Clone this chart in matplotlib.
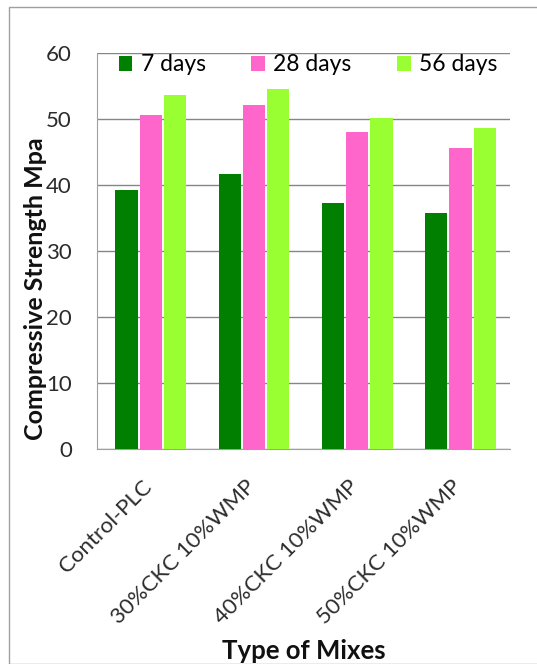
import matplotlib
matplotlib.use("Agg")
import matplotlib.pyplot as plt
import numpy as np
from matplotlib.patches import Rectangle

plt.rcParams['font.family'] = ['Lato', 'DejaVu Sans']

categories = ["Control-PLC", "30%CKC 10%WMP", "40%CKC 10%WMP", "50%CKC 10%WMP"]
series_names = ["7 days", "28 days", "56 days"]
days7 = [39.2, 41.7, 37.2, 35.7]
days28 = [50.6, 52.1, 48.1, 45.6]
days56 = [53.6, 54.6, 50.2, 48.6]
colors = ["#007F00", "#FF66CC", "#99FF33"]
yticks = [0, 10, 20, 30, 40, 50, 60]

fig = plt.figure(figsize=(5.37, 6.64), dpi=100)
fig.patches.append(Rectangle((9/537, 0), 1.0, 1 - 7/664, transform=fig.transFigure,
                             fill=False, edgecolor="#A0A0A0", linewidth=1.0))
ax = fig.add_axes([97/537, 1 - 449/664, 413/537, (449 - 53)/664])

x = np.arange(len(categories))
w = 0.215
offsets = [-0.235, 0.0, 0.235]
for vals, off, c, name in zip([days7, days28, days56], offsets, colors, series_names):
    ax.bar(x + off + 0.02, vals, width=w, color=c, label=name, zorder=3)

ax.set_xlim(-0.5, len(categories) - 0.5)
ax.set_ylim(0, 60)
ax.set_yticks(yticks)
ax.yaxis.grid(True, color="#868686", linewidth=1.0, zorder=0)
ax.set_axisbelow(True)
for s in ["top", "right"]:
    ax.spines[s].set_visible(False)
ax.spines["left"].set_color("#A0A0A0")
ax.spines["bottom"].set_color("#A0A0A0")
ax.tick_params(axis="both", length=0, labelsize=16, colors="#2b2b2b")
ax.tick_params(axis="y", pad=18)
ax.set_xticks(x)
ax.set_xticklabels(categories, rotation=45, ha="right", va="center",
                   rotation_mode="anchor", fontsize=16)
ax.tick_params(axis="x", pad=25)

ax.set_ylabel("Compressive Strength Mpa", fontsize=18, fontweight="bold", color="#111111")
ax.yaxis.set_label_coords(-0.122, 0.404)
ax.set_xlabel("Type of Mixes", fontsize=18.5, fontweight="bold", color="#111111")
ax.xaxis.set_label_coords(0.5, -0.481)

leg = ax.legend(loc="center", ncol=3, frameon=False, fontsize=16.5,
                handlelength=0.6, handleheight=0.6, handletextpad=0.35,
                columnspacing=2.0, bbox_to_anchor=(0.511, 0.970), borderpad=0)

fig.savefig("out.png", dpi=100)
